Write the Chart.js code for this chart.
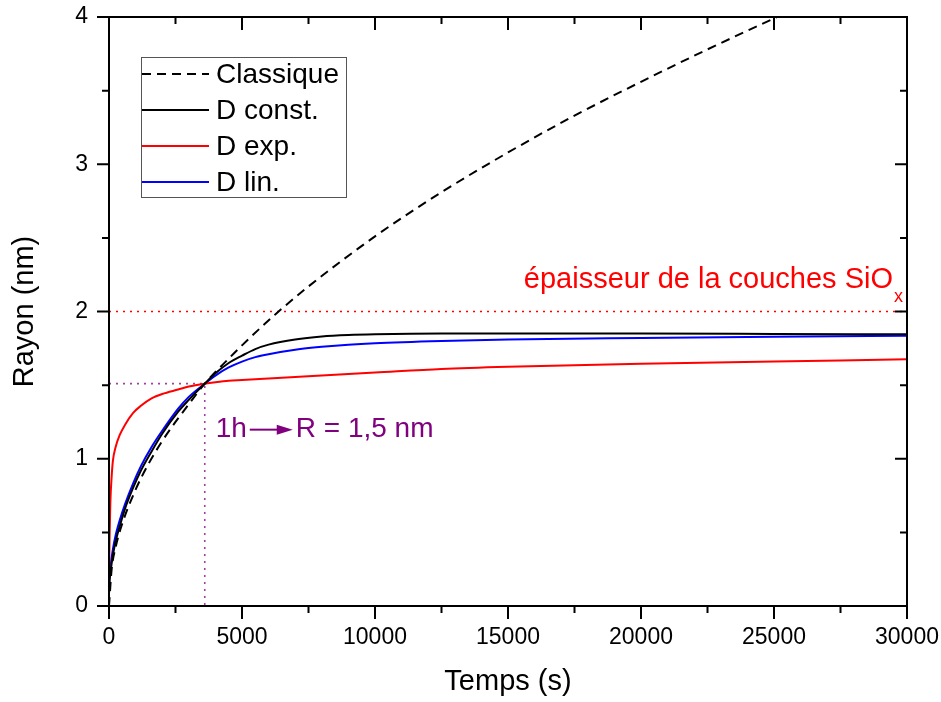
<!DOCTYPE html>
<html lang="fr">
<head>
<meta charset="UTF-8">
<title>Rayon en fonction du temps</title>
<style>
    body { margin: 0; background: #fff; }
    canvas { display: block; }
</style>
</head>
<body>
<canvas id="chart" width="941" height="702"></canvas>
<script src="https://cdn.jsdelivr.net/npm/chart.js"></script>
<script>
// Classique
const tClassique = [0, 100, 250, 500, 1000, 1500, 2000, 2500, 3000, 3600, 4500, 5000, 6250, 7500, 10000, 12500, 15000, 17500, 20000, 22500, 25000, 26000];
const rClassique = [0, 0.25, 0.4, 0.56, 0.79, 0.97, 1.12, 1.25, 1.37, 1.51, 1.68, 1.77, 1.98, 2.17, 2.51, 2.81, 3.08, 3.33, 3.56, 3.78, 3.99, 4.07];

// modèles D (temps commun)
const tD = [0, 20, 50, 100, 150, 250, 400, 600, 900, 1200, 1600, 2000, 2600, 3000, 3600, 4000, 4500, 5000, 5500, 6000, 7000, 8000, 9000, 10000, 12500, 15000, 20000, 25000, 30000];
const rConst = [0.12, 0.17, 0.22, 0.29, 0.35, 0.44, 0.54, 0.66, 0.8, 0.92, 1.05, 1.17, 1.32, 1.4, 1.51, 1.58, 1.65, 1.7, 1.745, 1.775, 1.81, 1.83, 1.84, 1.845, 1.85, 1.85, 1.85, 1.848, 1.845];
const rExp = [0.15, 0.45, 0.7, 0.88, 0.99, 1.08, 1.16, 1.23, 1.31, 1.36, 1.41, 1.44, 1.47, 1.49, 1.51, 1.52, 1.53, 1.535, 1.54, 1.545, 1.555, 1.565, 1.575, 1.585, 1.61, 1.625, 1.645, 1.66, 1.675];
const rLin = [0.08, 0.2, 0.26, 0.33, 0.39, 0.48, 0.58, 0.69, 0.83, 0.95, 1.08, 1.19, 1.34, 1.42, 1.51, 1.565, 1.62, 1.66, 1.69, 1.71, 1.74, 1.76, 1.775, 1.785, 1.8, 1.81, 1.82, 1.828, 1.835];

// repères
const epaisseurSiOx = 2;
const tUneHeure = 3600;
const rUneHeure = 1.51;

const xTicks = [0, 5000, 10000, 15000, 20000, 25000, 30000];
const yTicks = [0, 1, 2, 3, 4];

const FONT = 'Arial, "Liberation Sans", sans-serif';
const PURPLE = '#800080';

const pts = (xs, ys) => xs.map((v, i) => ({ x: v, y: ys[i] }));

const curve = (label, data, color, dash) => ({
    label: label,
    data: data,
    borderColor: color,
    borderWidth: 2,
    borderDash: dash || [],
    pointRadius: 0,
    showLine: true,
    fill: false,
    cubicInterpolationMode: 'monotone'
});

const guide = (data, color) => ({
    label: '',
    data: data,
    borderColor: color,
    borderWidth: 1.6,
    borderDash: [2, 5],
    pointRadius: 0,
    showLine: true,
    fill: false,
    tension: 0
});

// cadre + graduations (intérieures en haut/à droite, extérieures en bas/à gauche)
const cadre = {
    id: 'cadre',
    afterDraw(chart) {
        const { ctx, chartArea: a, scales: { x, y } } = chart;
        ctx.save();
        ctx.strokeStyle = '#000';
        ctx.lineWidth = 2;
        ctx.strokeRect(a.left, a.top, a.right - a.left, a.bottom - a.top);
        ctx.beginPath();
        for (let i = 0; i < xTicks.length; i++) {
            const px = x.getPixelForValue(xTicks[i]);
            ctx.moveTo(px, a.bottom); ctx.lineTo(px, a.bottom + 13);
            ctx.moveTo(px, a.top); ctx.lineTo(px, a.top + 13);
            if (i < xTicks.length - 1) {
                const pm = x.getPixelForValue((xTicks[i] + xTicks[i + 1]) / 2);
                ctx.moveTo(pm, a.bottom); ctx.lineTo(pm, a.bottom + 7);
                ctx.moveTo(pm, a.top); ctx.lineTo(pm, a.top + 7);
            }
        }
        for (let i = 0; i < yTicks.length; i++) {
            const py = y.getPixelForValue(yTicks[i]);
            ctx.moveTo(a.left, py); ctx.lineTo(a.left - 12, py);
            ctx.moveTo(a.right, py); ctx.lineTo(a.right - 12, py);
            if (i < yTicks.length - 1) {
                const pm = y.getPixelForValue((yTicks[i] + yTicks[i + 1]) / 2);
                ctx.moveTo(a.left, pm); ctx.lineTo(a.left - 7, pm);
                ctx.moveTo(a.right, pm); ctx.lineTo(a.right - 7, pm);
            }
        }
        ctx.stroke();
        ctx.restore();
    }
};

// légende encadrée + annotations
const annotations = {
    id: 'annotations',
    afterDatasetsDraw(chart) {
        const { ctx, chartArea: a, scales: { x, y } } = chart;
        ctx.save();

        // légende
        const lx = a.left + 32, ly = a.top + 40, lw = 205, lh = 140;
        ctx.fillStyle = '#fff';
        ctx.fillRect(lx, ly, lw, lh);
        ctx.strokeStyle = '#555';
        ctx.lineWidth = 1;
        ctx.strokeRect(lx + 0.5, ly + 0.5, lw, lh);
        chart.data.datasets.slice(0, 4).forEach((ds, i) => {
            const ry = ly + 17 + i * 36;
            ctx.beginPath();
            ctx.strokeStyle = ds.borderColor;
            ctx.lineWidth = 2;
            ctx.setLineDash(ds.borderDash);
            ctx.moveTo(lx + 1, ry);
            ctx.lineTo(lx + 68, ry);
            ctx.stroke();
            ctx.setLineDash([]);
            ctx.fillStyle = '#000';
            ctx.font = '28px ' + FONT;
            ctx.textBaseline = 'middle';
            ctx.textAlign = 'left';
            ctx.fillText(ds.label, lx + 75, ry + 1);
        });

        // épaisseur SiOx
        ctx.fillStyle = '#ff0000';
        ctx.textBaseline = 'alphabetic';
        ctx.font = '18px ' + FONT;
        const wx = ctx.measureText('x').width;
        ctx.font = '29px ' + FONT;
        const main = 'épaisseur de la couches SiO';
        const yb = y.getPixelForValue(epaisseurSiOx);
        const xEnd = a.right - 5 - wx;
        ctx.textAlign = 'right';
        ctx.fillText(main, xEnd, yb - 24);
        ctx.textAlign = 'left';
        ctx.font = '18px ' + FONT;
        ctx.fillText('x', xEnd + 1, yb - 10);

        // 1h -> R = 1,5 nm
        const hx = x.getPixelForValue(tUneHeure);
        const hy = y.getPixelForValue(rUneHeure);
        ctx.fillStyle = PURPLE;
        ctx.strokeStyle = PURPLE;
        ctx.font = '28px ' + FONT;
        ctx.fillText('1h', hx + 11, hy + 53);
        const ay = hy + 46;
        ctx.lineWidth = 2;
        ctx.beginPath();
        ctx.moveTo(hx + 45, ay);
        ctx.lineTo(hx + 76, ay);
        ctx.stroke();
        ctx.beginPath();
        ctx.moveTo(hx + 88, ay);
        ctx.lineTo(hx + 72, ay - 5);
        ctx.lineTo(hx + 72, ay + 5);
        ctx.closePath();
        ctx.fill();
        ctx.fillText('R = 1,5 nm', hx + 91, hy + 53);

        ctx.restore();
    }
};

new Chart(document.getElementById('chart').getContext('2d'), {
    type: 'scatter',
    data: {
        datasets: [
            curve('Classique', pts(tClassique, rClassique), '#000000', [9, 6]),
            curve('D const.', pts(tD, rConst), '#000000'),
            curve('D exp.', pts(tD, rExp), '#ff0000'),
            curve('D lin.', pts(tD, rLin), '#0000ff'),
            guide([{ x: 0, y: epaisseurSiOx }, { x: 30000, y: epaisseurSiOx }], '#ff0000'),
            guide([{ x: 0, y: rUneHeure }, { x: tUneHeure, y: rUneHeure }, { x: tUneHeure, y: 0 }], '#a040a0')
        ]
    },
    options: {
        responsive: false,
        animation: false,
        layout: { padding: 0 },
        plugins: {
            legend: { display: false },
            tooltip: { enabled: false }
        },
        scales: {
            x: {
                type: 'linear',
                min: 0,
                max: 30000,
                afterFit: s => { s.height = 96; s.paddingLeft = 0; s.paddingRight = 34; },
                afterBuildTicks: s => { s.ticks = xTicks.map(v => ({ value: v })); },
                grid: { display: false, drawTicks: false },
                border: { display: false },
                ticks: { color: '#000', padding: 18, maxRotation: 0, callback: v => String(v), font: { size: 23, family: FONT } },
                title: { display: true, text: 'Temps (s)', color: '#000', padding: { top: 0, bottom: 3 }, font: { size: 29, family: FONT } }
            },
            y: {
                type: 'linear',
                min: 0,
                max: 4,
                afterFit: s => { s.width = 109; s.paddingTop = 17; s.paddingBottom = 0; },
                afterBuildTicks: s => { s.ticks = yTicks.map(v => ({ value: v })); },
                grid: { display: false, drawTicks: false },
                border: { display: false },
                ticks: { color: '#000', padding: 21, callback: v => String(v), font: { size: 23, family: FONT } },
                title: { display: true, text: 'Rayon (nm)', color: '#000', padding: { top: 8, bottom: 0 }, font: { size: 29, family: FONT } }
            }
        }
    },
    plugins: [cadre, annotations]
});
</script>
</body>
</html>
